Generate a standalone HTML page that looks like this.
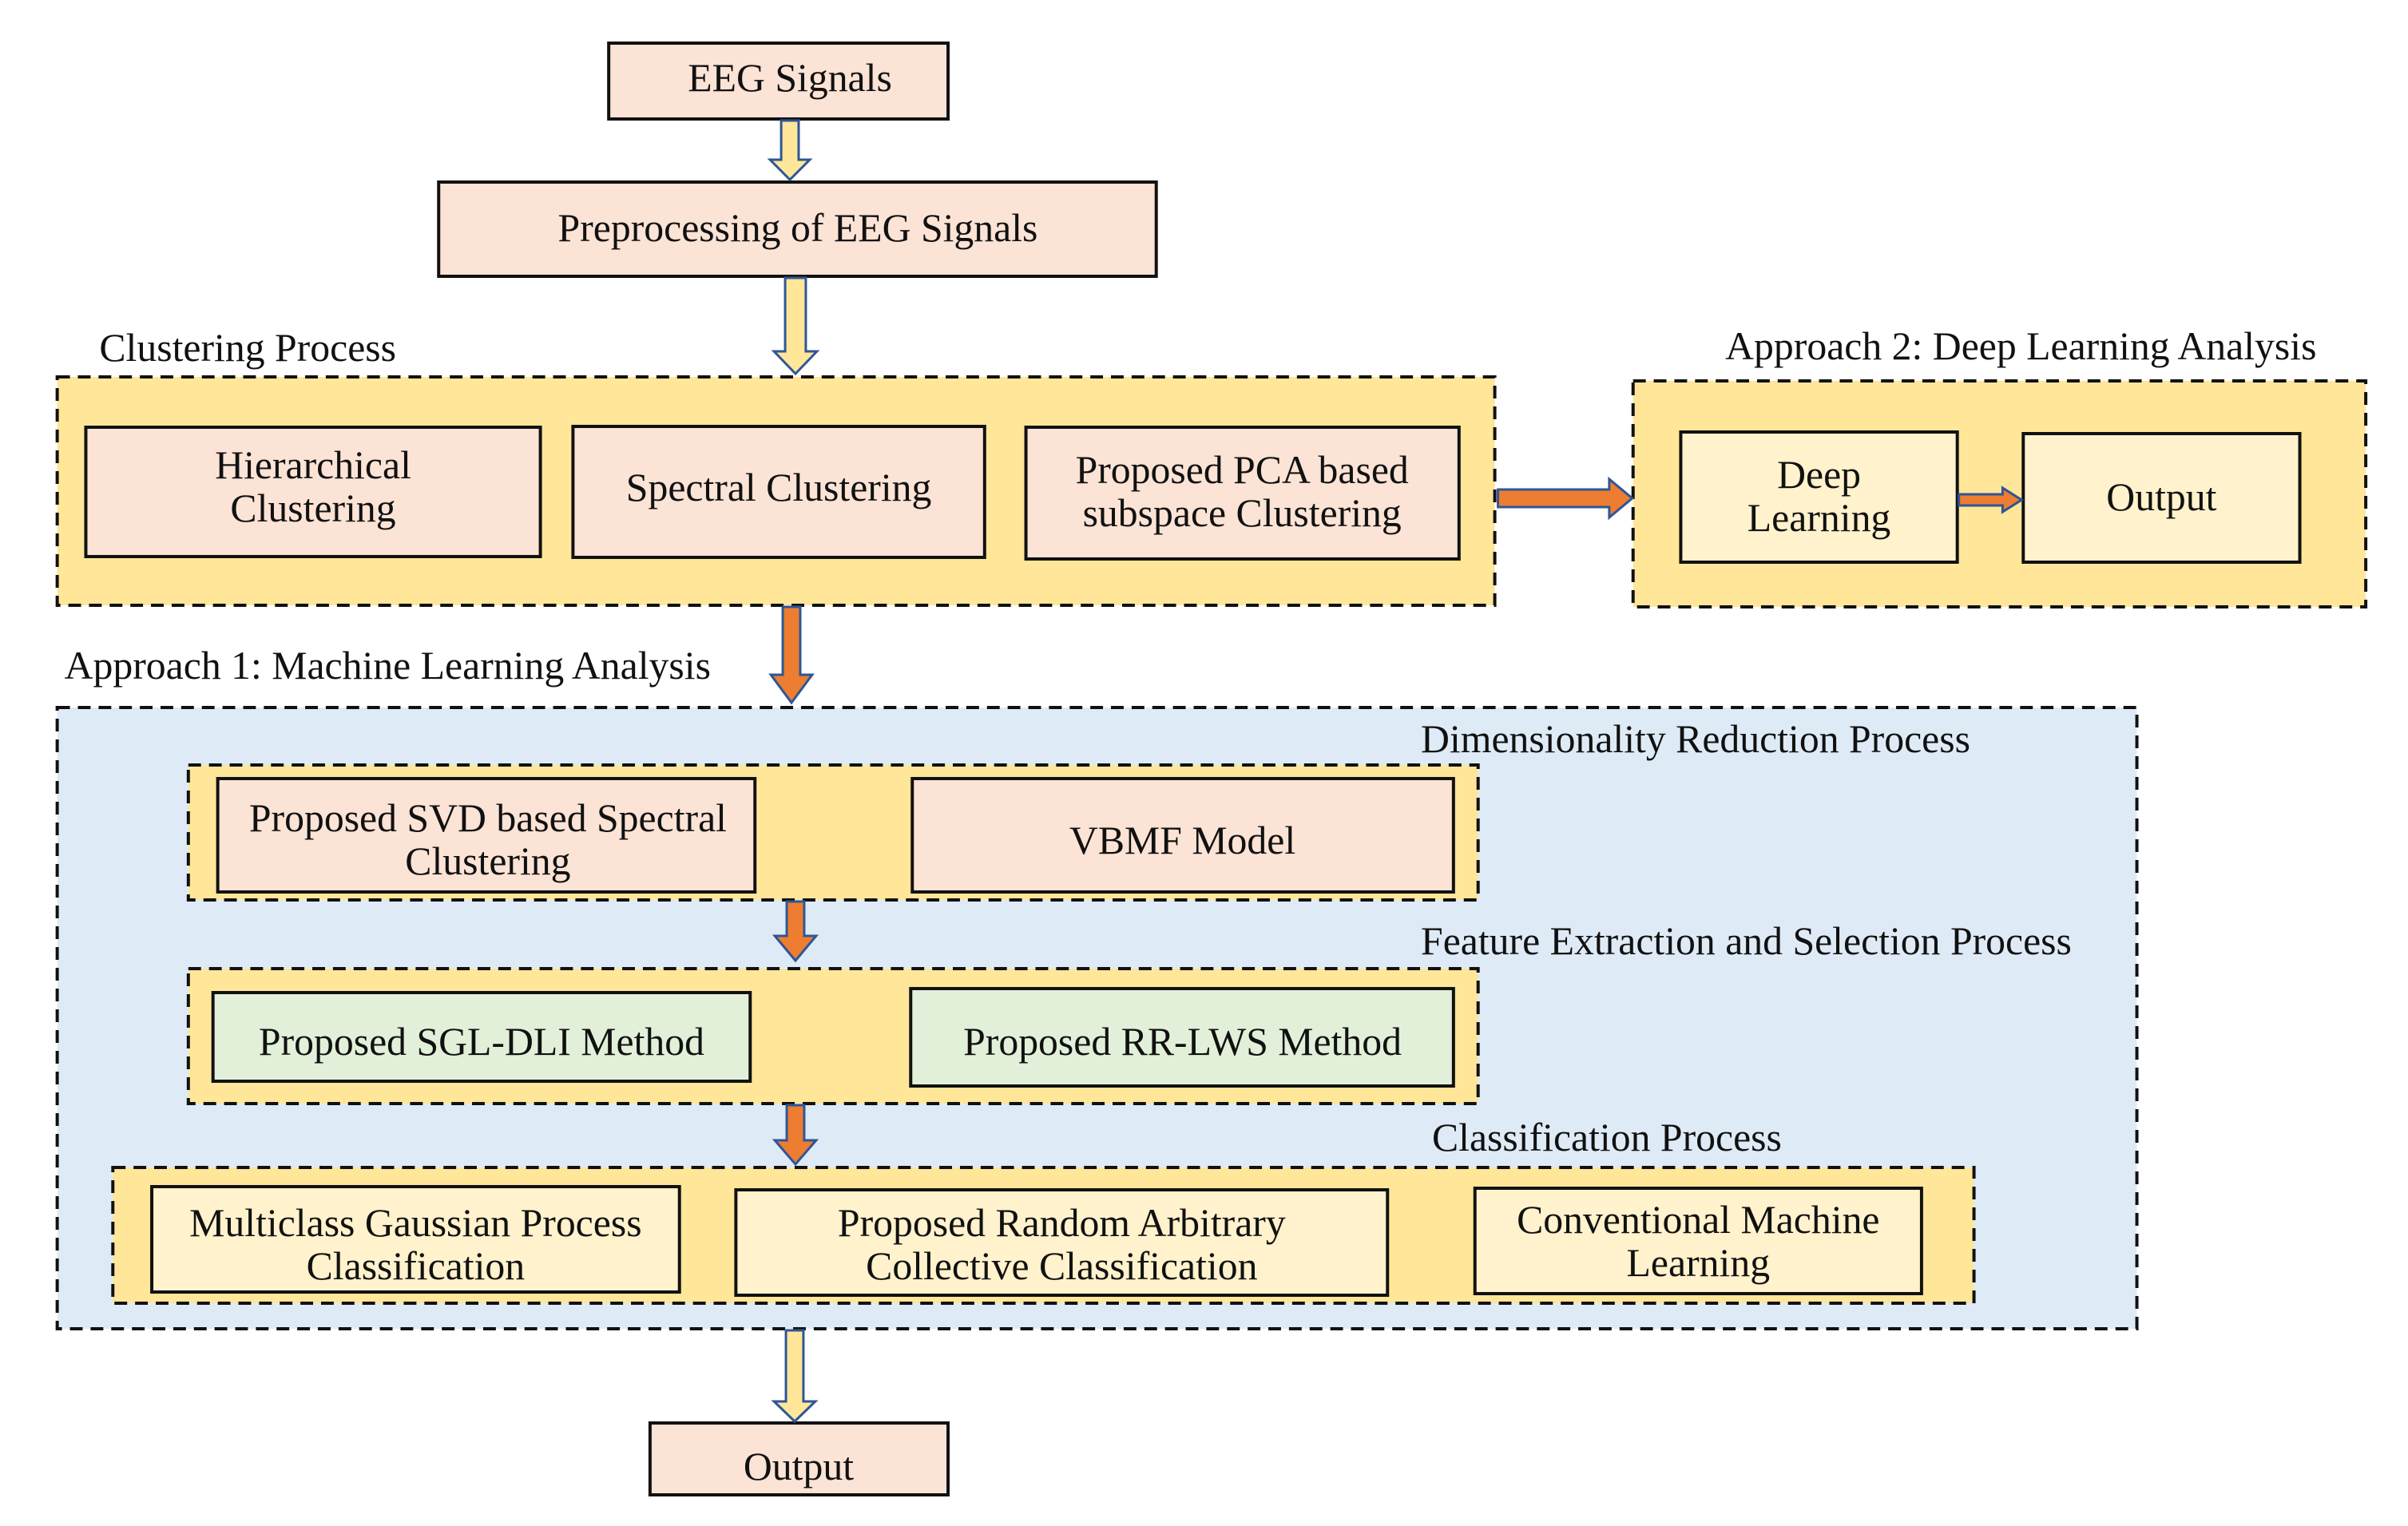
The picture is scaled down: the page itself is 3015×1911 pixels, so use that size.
<!DOCTYPE html>
<html><head><meta charset="utf-8"><style>
html,body{margin:0;padding:0;background:#fff}
svg text{font-family:"Liberation Serif",serif;font-size:50px;fill:#111}
</style></head><body>
<svg width="3015" height="1906" viewBox="0 0 3015 1906" xmlns="http://www.w3.org/2000/svg">
<g transform="scale(0.995,1)">
<!-- containers -->
<rect x="72" y="472" width="1809" height="286" fill="#ffe699" stroke="#111" stroke-width="4" stroke-dasharray="16 10"/>
<rect x="2055" y="477" width="922" height="283" fill="#ffe699" stroke="#111" stroke-width="4" stroke-dasharray="16 10"/>
<rect x="72" y="886" width="2617" height="778" fill="#deebf7" stroke="#111" stroke-width="4" stroke-dasharray="16 10"/>
<rect x="237" y="958" width="1623" height="169" fill="#ffe699" stroke="#111" stroke-width="4" stroke-dasharray="16 10"/>
<rect x="237" y="1213" width="1623" height="169" fill="#ffe699" stroke="#111" stroke-width="4" stroke-dasharray="16 10"/>
<rect x="142" y="1462" width="2342" height="170" fill="#ffe699" stroke="#111" stroke-width="4" stroke-dasharray="16 10"/>

<!-- boxes -->
<g stroke="#111" stroke-width="4">
<rect x="766" y="54" width="427" height="95" fill="#fbe3d6"/>
<rect x="552" y="228" width="903" height="118" fill="#fbe3d6"/>
<rect x="108" y="535" width="572" height="162" fill="#fbe3d6"/>
<rect x="721" y="534" width="518" height="164" fill="#fbe3d6"/>
<rect x="1291" y="535" width="545" height="165" fill="#fbe3d6"/>
<rect x="2115" y="541" width="348" height="163" fill="#fff2cc"/>
<rect x="2546" y="543" width="348" height="161" fill="#fff2cc"/>
<rect x="274" y="975" width="676" height="142" fill="#fbe3d6"/>
<rect x="1148" y="975" width="681" height="142" fill="#fbe3d6"/>
<rect x="268" y="1243" width="676" height="111" fill="#e2f0d9"/>
<rect x="1146" y="1238" width="683" height="122" fill="#e2f0d9"/>
<rect x="191" y="1486" width="664" height="132" fill="#fff2cc"/>
<rect x="926" y="1490" width="820" height="132" fill="#fff2cc"/>
<rect x="1856" y="1488" width="562" height="132" fill="#fff2cc"/>
<rect x="818" y="1782" width="375" height="90" fill="#fbe3d6"/>
</g>

<!-- arrows -->
<g stroke="#2f5597" stroke-width="3" stroke-linejoin="miter">
<polygon fill="#ffe699" points="983,151 1005,151 1005,200 1019,200 994,225 969,200 983,200"/>
<polygon fill="#ffe699" points="988,348 1014,348 1014,440 1028,440 1001,468 974,440 988,440"/>
<polygon fill="#ed7d31" points="985,760 1007,760 1007,845 1022,845 996,880 970,845 985,845"/>
<polygon fill="#ed7d31" points="1885,613 2025,613 2025,600 2054,624 2025,648 2025,635 1885,635"/>
<polygon fill="#ed7d31" points="2465,619 2520,619 2520,611 2544,626 2520,641 2520,633 2465,633"/>
<polygon fill="#ed7d31" points="990,1129 1012,1129 1012,1172 1027,1172 1001,1203 975,1172 990,1172"/>
<polygon fill="#ed7d31" points="990,1384 1012,1384 1012,1428 1027,1428 1001,1458 975,1428 990,1428"/>
<polygon fill="#ffe699" points="989,1666 1011,1666 1011,1755 1026,1755 1000,1780 974,1755 989,1755"/>
</g>

<!-- labels -->
<text x="125" y="452">Clustering Process</text>
<text x="2171" y="450">Approach 2: Deep Learning Analysis</text>
<text x="81" y="850">Approach 1: Machine Learning Analysis</text>
<text x="1788" y="942">Dimensionality Reduction Process</text>
<text x="1788" y="1195">Feature Extraction and Selection Process</text>
<text x="1802" y="1441">Classification Process</text>

<g text-anchor="middle">
<text x="994" y="114">EEG Signals</text>
<text x="1004" y="302">Preprocessing of EEG Signals</text>
<text x="394" y="599">Hierarchical</text>
<text x="394" y="653">Clustering</text>
<text x="980" y="627">Spectral Clustering</text>
<text x="1563" y="605">Proposed PCA based</text>
<text x="1563" y="659">subspace Clustering</text>
<text x="2289" y="611">Deep</text>
<text x="2289" y="665">Learning</text>
<text x="2720" y="639">Output</text>
<text x="614" y="1041">Proposed SVD based Spectral</text>
<text x="614" y="1095">Clustering</text>
<text x="1488" y="1069">VBMF Model</text>
<text x="606" y="1321">Proposed SGL-DLI Method</text>
<text x="1488" y="1321">Proposed RR-LWS Method</text>
<text x="523" y="1548">Multiclass Gaussian Process</text>
<text x="523" y="1602">Classification</text>
<text x="1336" y="1548">Proposed Random Arbitrary</text>
<text x="1336" y="1602">Collective Classification</text>
<text x="2137" y="1544">Conventional Machine</text>
<text x="2137" y="1598">Learning</text>
<text x="1005" y="1853">Output</text>
</g>
</g>
</svg>
</body></html>
